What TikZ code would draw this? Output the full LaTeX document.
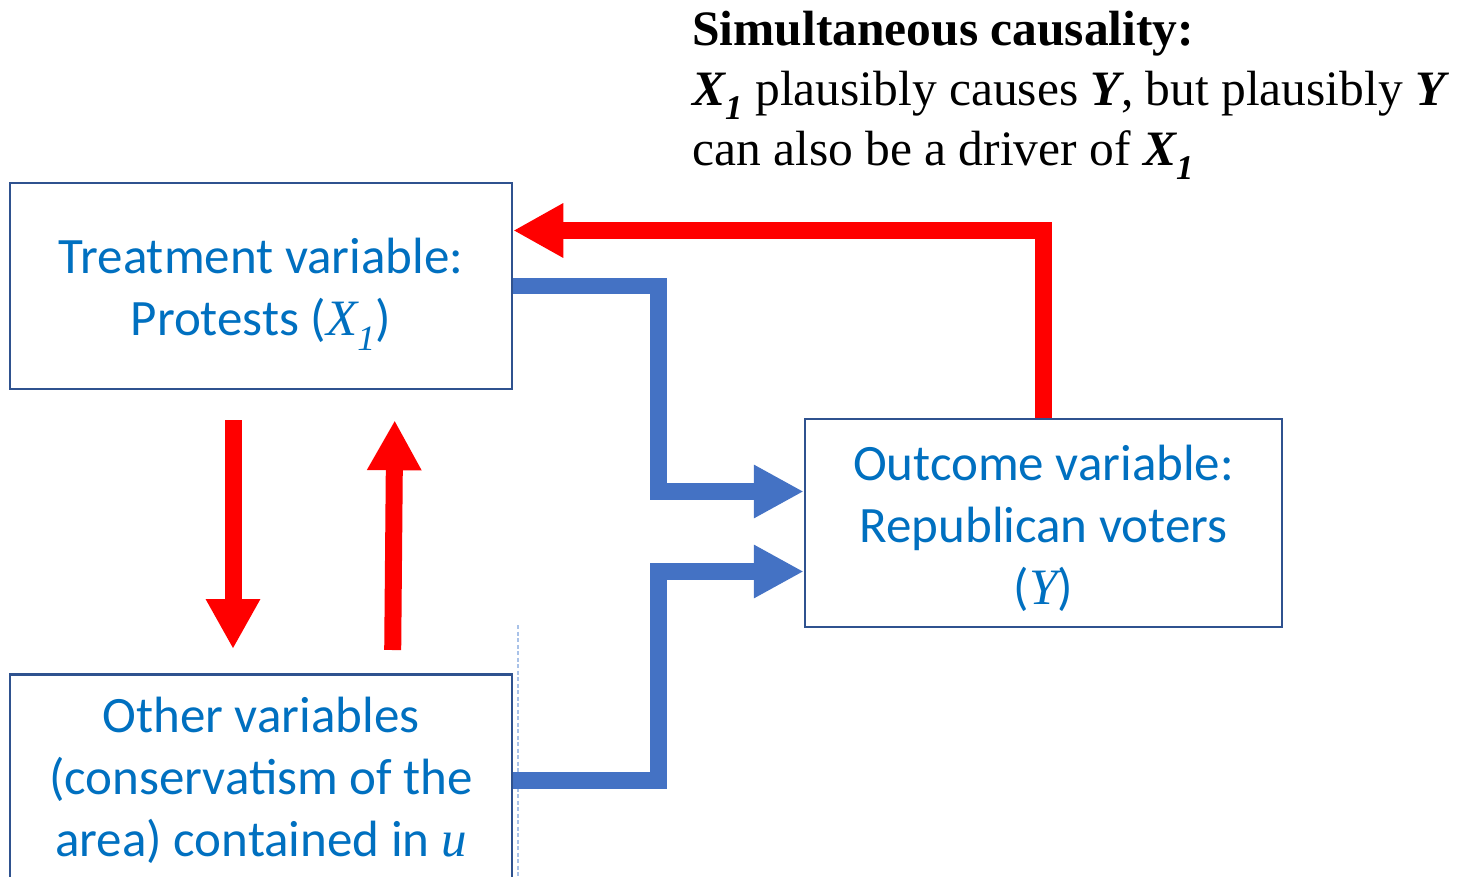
\documentclass[tikz,border=0pt]{standalone}
\usepackage{fontspec}
\setmainfont{Liberation Serif}
\newfontfamily\carlito{Carlito}
\usetikzlibrary{arrows.meta}
\definecolor{boxline}{HTML}{2F528F}
\definecolor{boxtext}{HTML}{0070C0}
\definecolor{bluearr}{HTML}{4472C4}
\definecolor{redarr}{HTML}{FF0000}
\definecolor{dashblue}{HTML}{A9C2E8}
\newcommand{\mvar}[1]{{\rmfamily\itshape #1}}
\newcommand{\bvar}[1]{{\bfseries\itshape #1}}
\begin{document}
\begin{tikzpicture}[x=1pt,y=-1pt,
  varbox/.style={draw=boxline, line width=2.5pt, fill=white, text=boxtext, align=center,
    inner sep=0pt, font=\carlito\fontsize{51}{62}\selectfont},
  bluelink/.style={draw=bluearr, line width=16.5pt, line join=miter,
    -{Triangle[length=50pt,width=50pt]}},
  redlink/.style={draw=redarr, line width=17pt, line join=miter,
    -{Triangle[length=50pt,width=51pt]}},
  ]
\useasboundingbox (0,0) rectangle (1466,877);
\clip (0,0) rectangle (1466,877);

\node[varbox, minimum width=502pt, minimum height=206pt] (treat) at (261,286)
  {\rule{0pt}{52pt}Treatment variable:\\Protests (\mvar{X\textsubscript{1}})};
\node[varbox, minimum width=477pt, minimum height=208pt] (outcome) at (1043.5,523)
  {\rule{0pt}{46pt}Outcome variable:\\Republican voters\\(\mvar{Y})};
\node[varbox, minimum width=502pt, minimum height=212pt, anchor=north] (other) at (261,673)
  {Other variables\\(conservatism of the\\area) contained in \mvar{u}};

\node[anchor=north west, inner sep=0pt, align=left,
  font=\fontsize{49.5}{60}\selectfont] (title) at (692,11)
  {\textbf{Simultaneous causality:}\\
   \bvar{X\textsubscript{1}} plausibly causes \bvar{Y}, but plausibly \bvar{Y}\\
   can also be a driver of \bvar{X\textsubscript{1}}};

\draw[dashblue, line width=1.5pt, dash pattern=on 4pt off 2.5pt] (518,625) -- (518,877);

% blue causal links
\draw[bluelink] (treat.east) -- (treat.east -| 658.5,0) |- (outcome.west |- 0,491.5);
\draw[bluelink] (other.east) -- (other.east -| 658.5,0) |- (outcome.west |- 0,571.5);

% red links
\draw[redlink] (outcome.north) |- (treat.east |- 0,230.5);
\draw[redlink, shorten <=30pt, shorten >=24pt] (treat.south -| 233,0) -- (other.north -| 233,0);
\draw[redlink, shorten <=23pt, shorten >=30pt] (other.north -| 392.5,0) -- (treat.south -| 395,0);
\end{tikzpicture}
\end{document}
